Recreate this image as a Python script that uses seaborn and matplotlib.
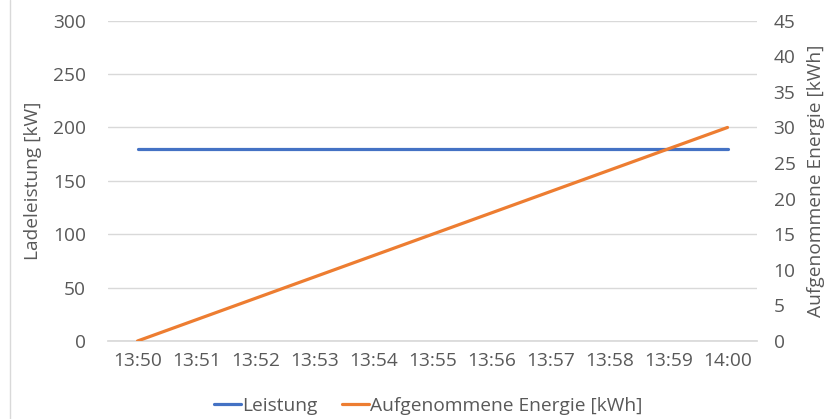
import matplotlib
matplotlib.use("Agg")
import matplotlib.pyplot as plt
import seaborn as sns
import pandas as pd
from matplotlib.lines import Line2D

times = ["13:50", "13:51", "13:52", "13:53", "13:54", "13:55",
         "13:56", "13:57", "13:58", "13:59", "14:00"]
leistung = [180, 180, 180, 180, 180, 180, 180, 180, 180, 180, 180]
energie = [0, 3, 6, 9, 12, 15, 18, 21, 24, 27, 30]
left_ticks = [0, 50, 100, 150, 200, 250, 300]
right_ticks = [0, 5, 10, 15, 20, 25, 30, 35, 40, 45]

sns.set_theme(style="white")
plt.rcParams['font.family'] = ['Open Sans', 'DejaVu Sans']

TXT = "#595959"
GRID = "#D9D9D9"
BLUE = "#4472C4"
ORANGE = "#ED7D31"
FS = 13.8

df = pd.DataFrame({"Zeit": times, "Leistung": leistung, "Energie": energie})

fig = plt.figure(figsize=(8.3, 4.19), dpi=100)
ax = fig.add_axes([108/830, 1-341/419, (757-108)/830, (341-20.7)/419])
ax2 = ax.twinx()

sns.lineplot(data=df, x="Zeit", y="Leistung", ax=ax, color=BLUE, linewidth=2.3, sort=False)
sns.lineplot(data=df, x="Zeit", y="Energie", ax=ax2, color=ORANGE, linewidth=2.3, sort=False)

ax.set_xlim(-0.5, len(times) - 0.5)
ax.set_ylim(0, 300)
ax.set_yticks(left_ticks)
ax2.set_ylim(0, 45)
ax2.set_yticks(right_ticks)
ax.set_xticks(range(len(times)))
ax.set_xticklabels(times)

ax.yaxis.grid(True, color=GRID, linewidth=1)
ax.set_axisbelow(True)
for a in (ax, ax2):
    for s in a.spines.values():
        s.set_visible(False)
    a.tick_params(axis="both", length=0, colors=TXT, labelsize=FS)
ax.spines["bottom"].set_visible(True)
ax.spines["bottom"].set_color(GRID)
ax.tick_params(axis="y", pad=16)
ax2.tick_params(axis="y", pad=12)
ax.tick_params(axis="x", pad=8)

ax.set_xlabel("")
ax.set_ylabel("Ladeleistung [kW]", color=TXT, fontsize=FS, labelpad=8)
ax2.set_ylabel("Aufgenommene Energie [kWh]", color=TXT, fontsize=FS, labelpad=8)

handles = [Line2D([], [], color=BLUE, linewidth=2.3),
           Line2D([], [], color=ORANGE, linewidth=2.3)]
fig.legend(handles, ["Leistung", "Aufgenommene Energie [kWh]"], loc="center",
           bbox_to_anchor=(428/830, 1 - 406/419), ncol=2, frameon=False,
           fontsize=FS, labelcolor=TXT, handlelength=1.4, handletextpad=0.05,
           columnspacing=1.3)

fig.add_artist(Line2D([10/830, 10/830], [0, 1], color=GRID, linewidth=1,
                      transform=fig.transFigure))

fig.savefig("out.png", dpi=100)
